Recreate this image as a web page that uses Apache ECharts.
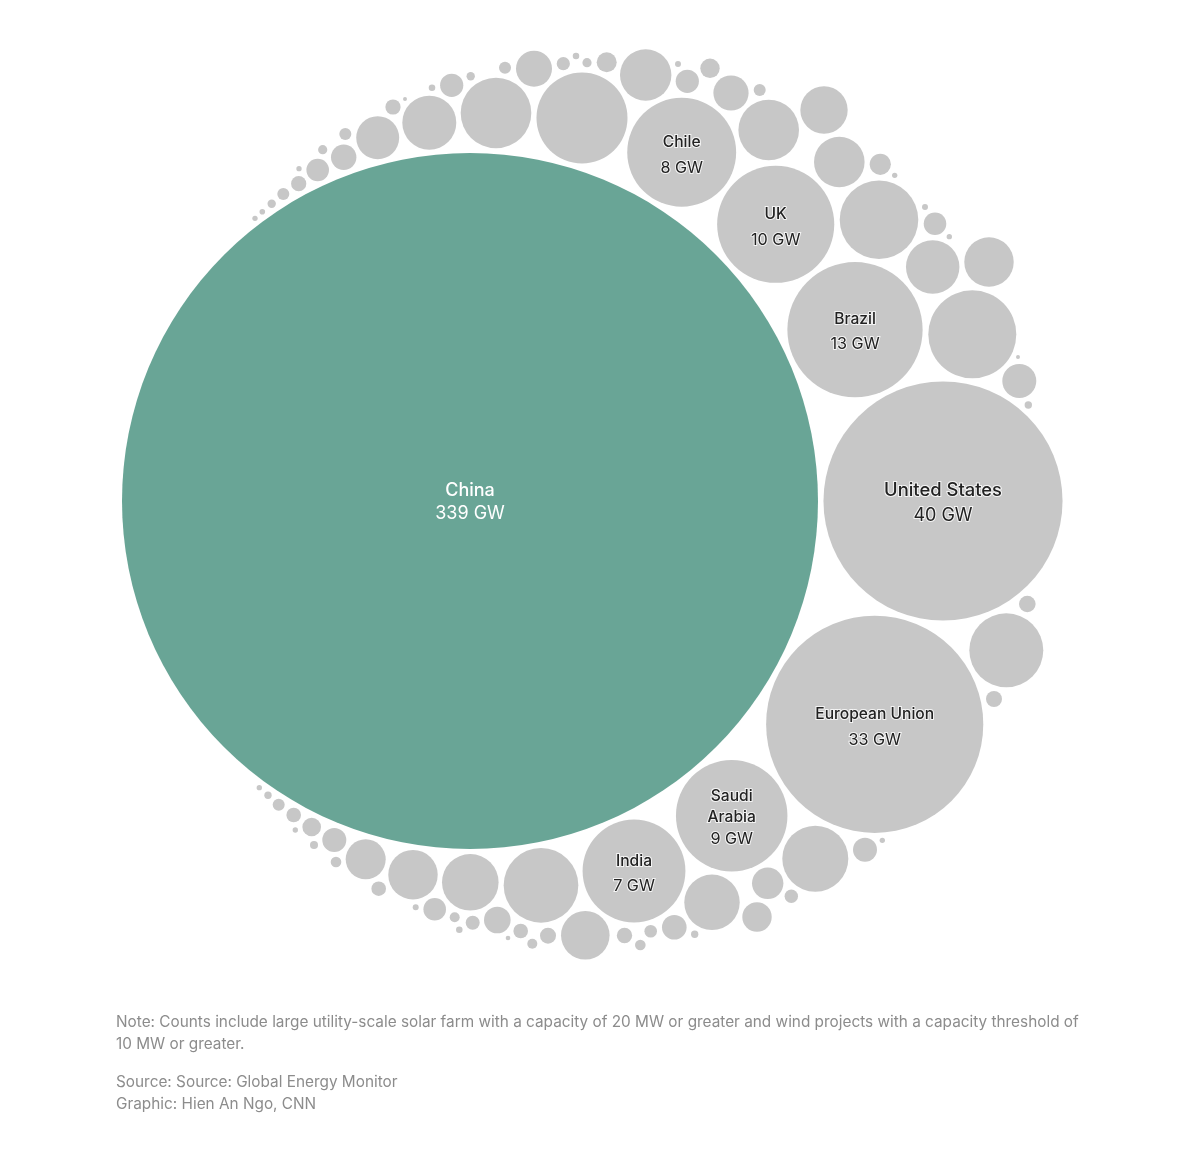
<!DOCTYPE html>
<html>
<head>
<meta charset="utf-8">
<style>html,body{margin:0;padding:0;background:#fff}#c{width:1200px;height:1162px}</style>
<script src="https://cdn.jsdelivr.net/npm/echarts@6/dist/echarts.min.js"></script>
</head>
<body>
<div id="c"></div>
<script>
// Labelled regions come first in every list below; the rest are unnamed in the source.
const regionNames = ['China', 'United States', 'European Union', 'Brazil', 'UK', 'Saudi\nArabia', 'Chile', 'India'];

// Capacity in GW (unlabelled circles estimated from their area).
const capacityGW = [
  339, 40, 33, 12.8, 9.6, 8.7, 8.3, 7.4,
  // top-left arc
  .020, .022, .049, .101, .162, .020, .357, .059, .452, .101, 1.29, .162, .011, 2.04, .030, .377, .049, 3.49, .101, .907, 5.8, .122, .030, .059, .280,
  // top-right arc
  1.85, .025, .377, .263, .867, .101, 2.57, 1.57, 1.79, .315, .020, 4.32, .025, .357, .020, 2.0, 1.71, 5.42, .011, .809, .038,
  // right and bottom-right
  .193, 3.83, .179, .403, .020, 3.05, .690, .126, 2.15, .605, .424, .038, .111, .079, .166,
  // bottom-left arc
  .020, .038, .101, .149, .020, .242, .045, .403, .079, 1.12, .149, 1.71, .025, .357, 2.24, .070, .030, .137, .495, .015, .149, .070, .179, 3.9, 1.65
];

// Position of each circle in the packing layout (axis units).
const packX = [
  470, 943, 874.7, 855, 775.7, 731.7, 681.7, 634,
  255, 262.3, 271.7, 283.3, 298.7, 299, 317.7, 322.7, 343.7, 345.3, 377.7, 393, 405, 429.3, 432, 451.7, 470.7, 496, 505, 534, 582, 563.3, 576, 587, 606.7,
  645.7, 678, 687.3, 710, 731, 759.7, 768.7, 824, 839.3, 880.3, 894.7, 879, 925, 935, 949.3, 932.7, 989, 972.3, 1018, 1019.3, 1028.3,
  1027.3, 1006.3, 994, 865, 882.3, 815.3, 767.7, 791.3, 712, 757, 674.3, 694.7, 650.7, 640.3, 624.5,
  259.3, 268, 278.7, 293.7, 295.3, 311.7, 314, 334.3, 336, 365.7, 378.7, 413, 415.7, 434.7, 470.3, 454.7, 459.3, 472.7, 497.3, 508, 520.7, 532.3, 548, 541, 585.3
];
const packY = [
  501, 501, 724.3, 329.7, 224.3, 815.7, 152.3, 871,
  218.3, 211.7, 203.7, 194, 183.7, 168.7, 170, 149.7, 157.3, 134, 137.7, 107, 99, 122.7, 87.7, 85.3, 76.3, 113, 67.7, 68.7, 118, 63.7, 56, 62.7, 62.3,
  75, 64, 81.3, 68.3, 93, 90, 130, 110, 162, 164.3, 175.3, 219.7, 207, 223.7, 236.7, 267, 262, 334.3, 357, 381, 405,
  604, 650.3, 699, 849.7, 840.3, 858.7, 883.3, 896.3, 902.3, 917, 927.3, 934.3, 931.3, 945, 935.5,
  787.7, 795.3, 804.7, 815, 830, 827, 845, 840, 862, 859.3, 888.7, 874.7, 907.3, 909.3, 882.3, 917.3, 929.7, 922.7, 920, 938, 931, 943.7, 935.7, 885.3, 935.3
];

const noteLines = [
  'Note: Counts include large utility-scale solar farm with a capacity of 20 MW or greater and wind projects with a capacity threshold of',
  '10 MW or greater.'
];
const creditLines = ['Source: Source: Global Energy Monitor', 'Graphic: Hien An Ngo, CNN'];

const FONT = 'Inter, "Liberation Sans", Arial, sans-serif';
const GREEN = '#69a596', GRAY = '#c7c7c7', NOTE = '#8c8c8c';
// Area-proportional circles: China's 339 GW sets a 348-unit radius.
const sizeOf = v => 2 * 348 * Math.sqrt(v / 339);

const halo = {color: '#222', fontFamily: FONT, textBorderColor: '#f4f4f4', textBorderWidth: 2};
const labelFor = (name, gw, i) => {
  if (i === 0) return {show: true, color: '#fff', formatter: `{n|${name}}\n{v|${gw} GW}`, offset: [0, 1],
    rich: {n: {color: '#fff', fontFamily: FONT, fontSize: 18, fontWeight: 500, lineHeight: 23, align: 'center'},
           v: {color: '#fff', fontFamily: FONT, fontSize: 18, lineHeight: 23, align: 'center'}}};
  const big = i === 1;
  const lh = i === 5 ? 21.5 : (big ? 26 : 25);
  const nameSize = big ? 18.4 : 15.6;
  const valueSize = big ? 18 : 16.2;
  const txt = name.split('\n').map(s => `{n|${s}}`).join('\n');
  return {show: true, formatter: `${txt}\n{v|${Math.round(gw)} GW}`, offset: [0, (i === 5 || i === 3) ? 2 : (big ? 2 : 3)],
    rich: {n: {...halo, fontSize: nameSize, fontWeight: 500, lineHeight: lh, align: 'center'},
           v: {...halo, fontSize: valueSize, lineHeight: lh, align: 'center'}}};
};

const bubbles = capacityGW.map((gw, i) => {
  const name = regionNames[i];
  const item = {value: [packX[i], packY[i], gw],
                itemStyle: {color: i === 0 ? GREEN : GRAY, opacity: 1}};
  if (name) { item.name = name; item.label = labelFor(name, gw, i); }
  return item;
});

const textEl = (s, y) => ({type: 'text', left: 116, top: y,
  style: {text: s, fill: NOTE, font: '15.35px ' + FONT}});

const chart = echarts.init(document.getElementById('c'), null, {renderer: 'canvas'});
chart.setOption({
  animation: false,
  backgroundColor: '#ffffff',
  grid: {left: 0, right: 0, top: 0, bottom: 0},
  xAxis: {type: 'value', min: 0, max: 1200, show: false},
  yAxis: {type: 'value', min: 0, max: 1162, inverse: true, show: false},
  series: [{type: 'scatter', data: bubbles, symbol: 'circle', itemStyle: {opacity: 1},
    symbolSize: d => sizeOf(d[2]), label: {show: false}, emphasis: {disabled: true}, silent: true}],
  graphic: [
    textEl(noteLines[0], 1015), textEl(noteLines[1], 1037),
    textEl(creditLines[0], 1075), textEl(creditLines[1], 1097)
  ]
});
</script>
</body>
</html>
